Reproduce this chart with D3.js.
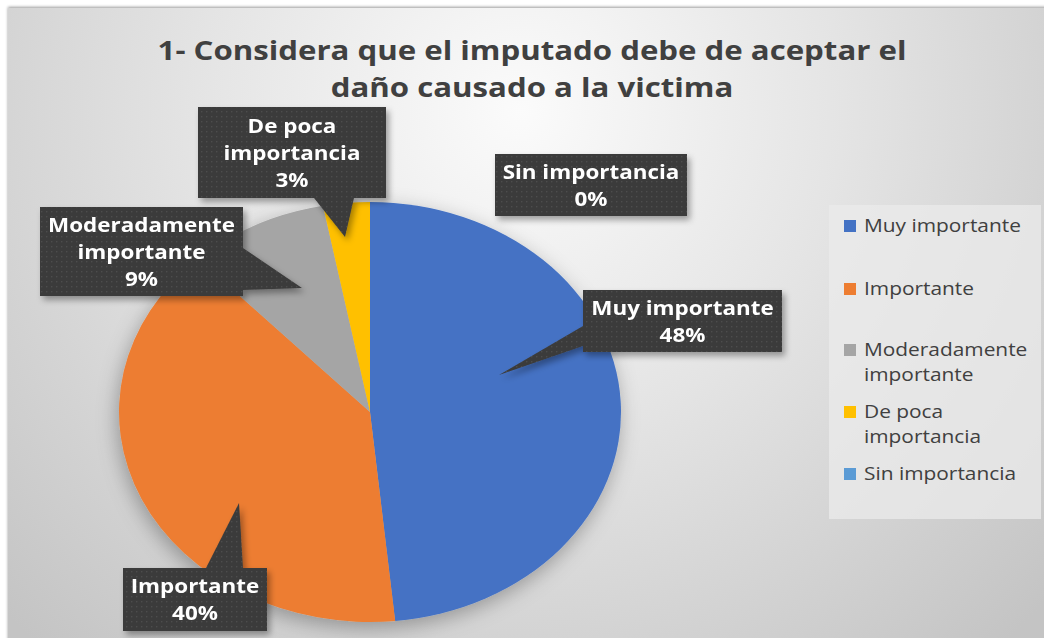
<!DOCTYPE html>
<html>
<head>
<meta charset="utf-8">
<script src="https://cdn.jsdelivr.net/npm/d3@7"></script>
<style>
html,body{margin:0;padding:0;background:#fff;}
svg{display:block;}
</style>
</head>
<body>
<svg id="chart" width="1044" height="638"></svg>
<script>
const titleLines = ["1- Considera que el imputado debe de aceptar el", "daño causado a la victima"];
const categories = ["Muy importante", "Importante", "Moderadamente importante", "De poca importancia", "Sin importancia"];
const values = [48.4, 39.6, 9, 3, 0];
const colors = ["#4472C4", "#ED7D31", "#A5A5A5", "#FFC000", "#5B9BD5"];
const labelLines = [["Muy importante"], ["Importante"], ["Moderadamente", "importante"], ["De poca", "importancia"], ["Sin importancia"]];
const legendLines = [["Muy importante"], ["Importante"], ["Moderadamente", "importante"], ["De poca", "importancia"], ["Sin importancia"]];

// layout for callouts: box [x,y,w,h], pointer base pts + tip
const callouts = [
  {box:[583,290,199,62], ptr:[[583,326],[583,346],[499,375]]},
  {box:[123,568,144,63], ptr:[[206,568],[243,568],[239,503]]},
  {box:[40,207,203,89], ptr:[[243,248],[243,290],[302,288]]},
  {box:[198,107,188,91], ptr:[[314,198],[354,198],[345,237]]},
  {box:[495,154,192,62], ptr:null}
];

const svg = d3.select("#chart");
const defs = svg.append("defs");

const bg = defs.append("radialGradient").attr("id","bg")
  .attr("gradientUnits","userSpaceOnUse").attr("cx",520).attr("cy",110).attr("r",720);
bg.append("stop").attr("offset","0").attr("stop-color","#fbfbfb");
bg.append("stop").attr("offset","0.45").attr("stop-color","#e4e4e4");
bg.append("stop").attr("offset","1").attr("stop-color","#c4c4c4");

const pat = defs.append("pattern").attr("id","dots").attr("patternUnits","userSpaceOnUse")
  .attr("width",5).attr("height",5);
pat.append("rect").attr("width",5).attr("height",5).attr("fill","#3b3b3b");
pat.append("rect").attr("x",1).attr("y",1).attr("width",1.4).attr("height",1.4).attr("fill","#4d4d4d");

const sh = defs.append("filter").attr("id","shadow").attr("x","-20%").attr("y","-20%").attr("width","140%").attr("height","150%");
sh.append("feDropShadow").attr("dx",3).attr("dy",4).attr("stdDeviation",3).attr("flood-color","#000").attr("flood-opacity",0.35);

const psh = defs.append("filter").attr("id","pshadow").attr("x","-20%").attr("y","-20%").attr("width","140%").attr("height","140%");
psh.append("feDropShadow").attr("dx",-2).attr("dy",6).attr("stdDeviation",10).attr("flood-color","#000").attr("flood-opacity",0.3);

const fsh = defs.append("filter").attr("id","fshadow").attr("x","-5%").attr("y","-5%").attr("width","110%").attr("height","110%");
fsh.append("feDropShadow").attr("dx",0).attr("dy",-1).attr("stdDeviation",1.5).attr("flood-color","#000").attr("flood-opacity",0.4);

// frame
svg.append("rect").attr("x",8).attr("y",8).attr("width",1040).attr("height",635)
  .attr("fill","url(#bg)").attr("filter","url(#fshadow)");

function stretchedText(sel, x, y, sx){
  return sel.attr("transform",`translate(${x},${y}) scale(${sx},1)`);
}

// title
svg.append("g").selectAll("text").data(titleLines).join("text")
  .each(function(d,i){ stretchedText(d3.select(this),532,60+i*37,1.2); })
  .attr("text-anchor","middle")
  .attr("font-family","'Open Sans', sans-serif").attr("font-weight","bold")
  .attr("font-size",26).attr("fill","#404040")
  .text(d=>d);

// pie (slightly wider than tall, as in the reference)
const cx = 370, cy = 412, R = 251, ry = 210;
const pie = d3.pie().sort(null).value(d=>d)(values);
const arc = d3.arc().innerRadius(0).outerRadius(R);
const pg = svg.append("g").attr("filter","url(#pshadow)")
  .append("g").attr("transform",`translate(${cx},${cy}) scale(1,${ry/R})`);
pg.selectAll("path").data(pie).join("path")
  .attr("d",arc).attr("fill",(d,i)=>colors[i]);

// callouts
const cg = svg.append("g");
callouts.forEach((c,i)=>{
  const g = cg.append("g").attr("filter","url(#shadow)");
  const [x,y,w,h] = c.box;
  g.append("rect").attr("x",x).attr("y",y).attr("width",w).attr("height",h).attr("fill","url(#dots)");
  if(c.ptr){
    g.append("path").attr("d",d3.line()(c.ptr)+"Z").attr("fill","url(#dots)");
  }
  const lines = labelLines[i].concat([Math.round(values[i])+"%"]);
  const lh = 27;
  const y0 = y + h/2 - (lines.length-1)*lh/2 + 7;
  g.selectAll("text").data(lines).join("text")
    .each(function(d,j){ stretchedText(d3.select(this), x+w/2, y0+j*lh, 1.15); })
    .attr("text-anchor","middle")
    .attr("font-family","'Open Sans', sans-serif").attr("font-weight","bold")
    .attr("font-size",19.5).attr("fill","#ffffff")
    .text(d=>d);
});

// legend
const lg = svg.append("g");
lg.append("rect").attr("x",829).attr("y",205).attr("width",212).attr("height",314).attr("fill","#ebebeb").attr("opacity",0.75);
const legY = [226, 289, 350, 412, 474];
categories.forEach((c,i)=>{
  lg.append("rect").attr("x",844).attr("y",legY[i]-6).attr("width",12).attr("height",12).attr("fill",colors[i]);
  lg.selectAll(null).data(legendLines[i]).join("text")
    .each(function(d,j){ stretchedText(d3.select(this), 864, legY[i]+6+j*25, 1.16); })
    .attr("font-family","'Open Sans', sans-serif")
    .attr("font-size",18).attr("fill","#404040")
    .text(d=>d);
});
</script>
</body>
</html>
